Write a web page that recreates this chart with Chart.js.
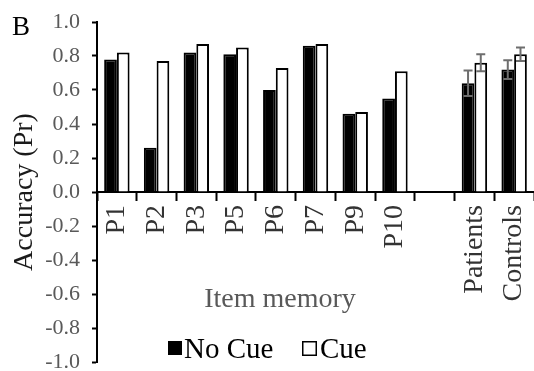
<!DOCTYPE html>
<html>
<head>
<meta charset="utf-8">
<script src="https://cdn.jsdelivr.net/npm/chart.js@4"></script>
<style>
  html, body { margin: 0; padding: 0; background: #ffffff; }
  #wrap { width: 534px; height: 371px; position: relative; }
</style>
</head>
<body>
<div id="wrap"><canvas id="c"></canvas></div>
<script>
// Item-memory accuracy (Pr) per patient and group means
const categories = ['P1', 'P2', 'P3', 'P5', 'P6', 'P7', 'P9', 'P10', '', 'Patients', 'Controls'];
const noCueValues = [0.78, 0.26, 0.82, 0.81, 0.60, 0.86, 0.46, 0.55, null, 0.64, 0.72];
const cueValues   = [0.82, 0.77, 0.87, 0.85, 0.73, 0.87, 0.47, 0.71, null, 0.76, 0.81];
// standard errors, group means only
const noCueErrors = [null, null, null, null, null, null, null, null, null, 0.075, 0.055];
const cueErrors   = [null, null, null, null, null, null, null, null, null, 0.05, 0.04];
const yTickValues = [-1.0, -0.8, -0.6, -0.4, -0.2, 0.0, 0.2, 0.4, 0.6, 0.8, 1.0];

const SERIF = '"Liberation Serif", "Times New Roman", serif';

// draws error whiskers from each dataset's `errors` array
const errorBars = {
  id: 'errorBars',
  afterDatasetsDraw(chart) {
    const ctx = chart.ctx;
    const y = chart.scales.y;
    ctx.save();
    ctx.strokeStyle = '#6e6e6e';
    ctx.lineWidth = 2;
    chart.data.datasets.forEach((ds, di) => {
      if (!ds.errors) return;
      const meta = chart.getDatasetMeta(di);
      ds.errors.forEach((e, i) => {
        const v = ds.data[i];
        if (e == null || v == null) return;
        const x = meta.data[i].x;
        const top = y.getPixelForValue(v + e);
        const bot = y.getPixelForValue(v - e);
        const cap = 4.5;
        ctx.beginPath();
        ctx.moveTo(x, top); ctx.lineTo(x, bot);
        ctx.moveTo(x - cap, top); ctx.lineTo(x + cap, top);
        ctx.moveTo(x - cap, bot); ctx.lineTo(x + cap, bot);
        ctx.stroke();
      });
    });
    ctx.restore();
  }
};

// panel letter, axis caption and key drawn over the lower half of the plot
const panelText = {
  id: 'panelText',
  afterDraw(chart) {
    const ctx = chart.ctx;
    ctx.save();
    ctx.textBaseline = 'alphabetic';
    ctx.textAlign = 'left';

    ctx.fillStyle = '#000000';
    ctx.font = '27px ' + SERIF;
    ctx.fillText('B', 12, 35);

    ctx.fillStyle = '#595959';
    ctx.font = '28px ' + SERIF;
    ctx.textAlign = 'center';
    ctx.fillText('Item memory', 280, 307);

    ctx.textAlign = 'left';
    ctx.font = '29px ' + SERIF;
    const keyY = 358;
    const ds = chart.data.datasets;
    // key entry 1
    ctx.fillStyle = '#000000';
    ctx.fillRect(168, 341, 14, 14);
    ctx.fillText(ds[0].label, 184, keyY);
    // key entry 2
    ctx.fillStyle = '#ffffff';
    ctx.fillRect(302, 341, 14, 14);
    ctx.strokeStyle = '#000000';
    ctx.lineWidth = 1.5;
    ctx.strokeRect(302.75, 341.75, 13.5, 13.5);
    ctx.fillStyle = '#000000';
    ctx.fillText(ds[1].label, 320, keyY);
    ctx.restore();
  }
};

new Chart(document.getElementById('c'), {
  type: 'bar',
  data: {
    labels: categories,
    datasets: [
      {
        label: 'No Cue',
        data: noCueValues,
        errors: noCueErrors,
        backgroundColor: '#000000',
        borderColor: '#000000',
        borderWidth: 2,
        categoryPercentage: 0.64,
        barPercentage: 1.0
      },
      {
        label: 'Cue',
        data: cueValues,
        errors: cueErrors,
        backgroundColor: '#ffffff',
        borderColor: '#000000',
        borderWidth: 2,
        categoryPercentage: 0.64,
        barPercentage: 1.0
      }
    ]
  },
  options: {
    responsive: true,
    maintainAspectRatio: false,
    animation: false,
    events: [],
    layout: { padding: { top: 22, bottom: 9, left: 0, right: 0 } },
    plugins: {
      legend: { display: false },
      tooltip: { enabled: false }
    },
    scales: {
      x: {
        type: 'category',
        position: { y: 0 },
        offset: true,
        afterFit(scale) {
          scale.paddingLeft = 0; scale.paddingRight = 0;
          scale.paddingTop = 0; scale.paddingBottom = 0;
        },
        grid: {
          offset: true,
          drawOnChartArea: false,
          drawTicks: true,
          tickLength: 8,
          tickWidth: 2,
          tickColor: '#000000'
        },
        border: { display: true, color: '#000000', width: 2 },
        ticks: {
          minRotation: 90,
          maxRotation: 90,
          autoSkip: false,
          padding: 5,
          color: '#333333',
          font: { family: SERIF, size: 28 }
        }
      },
      y: {
        min: -1,
        max: 1,
        afterFit(scale) {
          scale.width = 97;
          scale.paddingTop = 0; scale.paddingBottom = 0;
        },
        afterBuildTicks(scale) { scale.ticks = yTickValues.map(v => ({ value: v })); },
        grid: {
          drawOnChartArea: false,
          drawTicks: true,
          tickLength: 5,
          tickWidth: 2,
          tickColor: '#000000'
        },
        border: { display: true, color: '#000000', width: 2 },
        ticks: {
          padding: 12,
          color: '#595959',
          font: { family: SERIF, size: 22 },
          callback: (v) => Number(v).toFixed(1)
        },
        title: {
          display: true,
          text: 'Accuracy (Pr)',
          color: '#1a1a1a',
          font: { family: SERIF, size: 28 },
          padding: { top: 8, bottom: 0 }
        }
      }
    }
  },
  plugins: [errorBars, panelText]
});
</script>
</body>
</html>
